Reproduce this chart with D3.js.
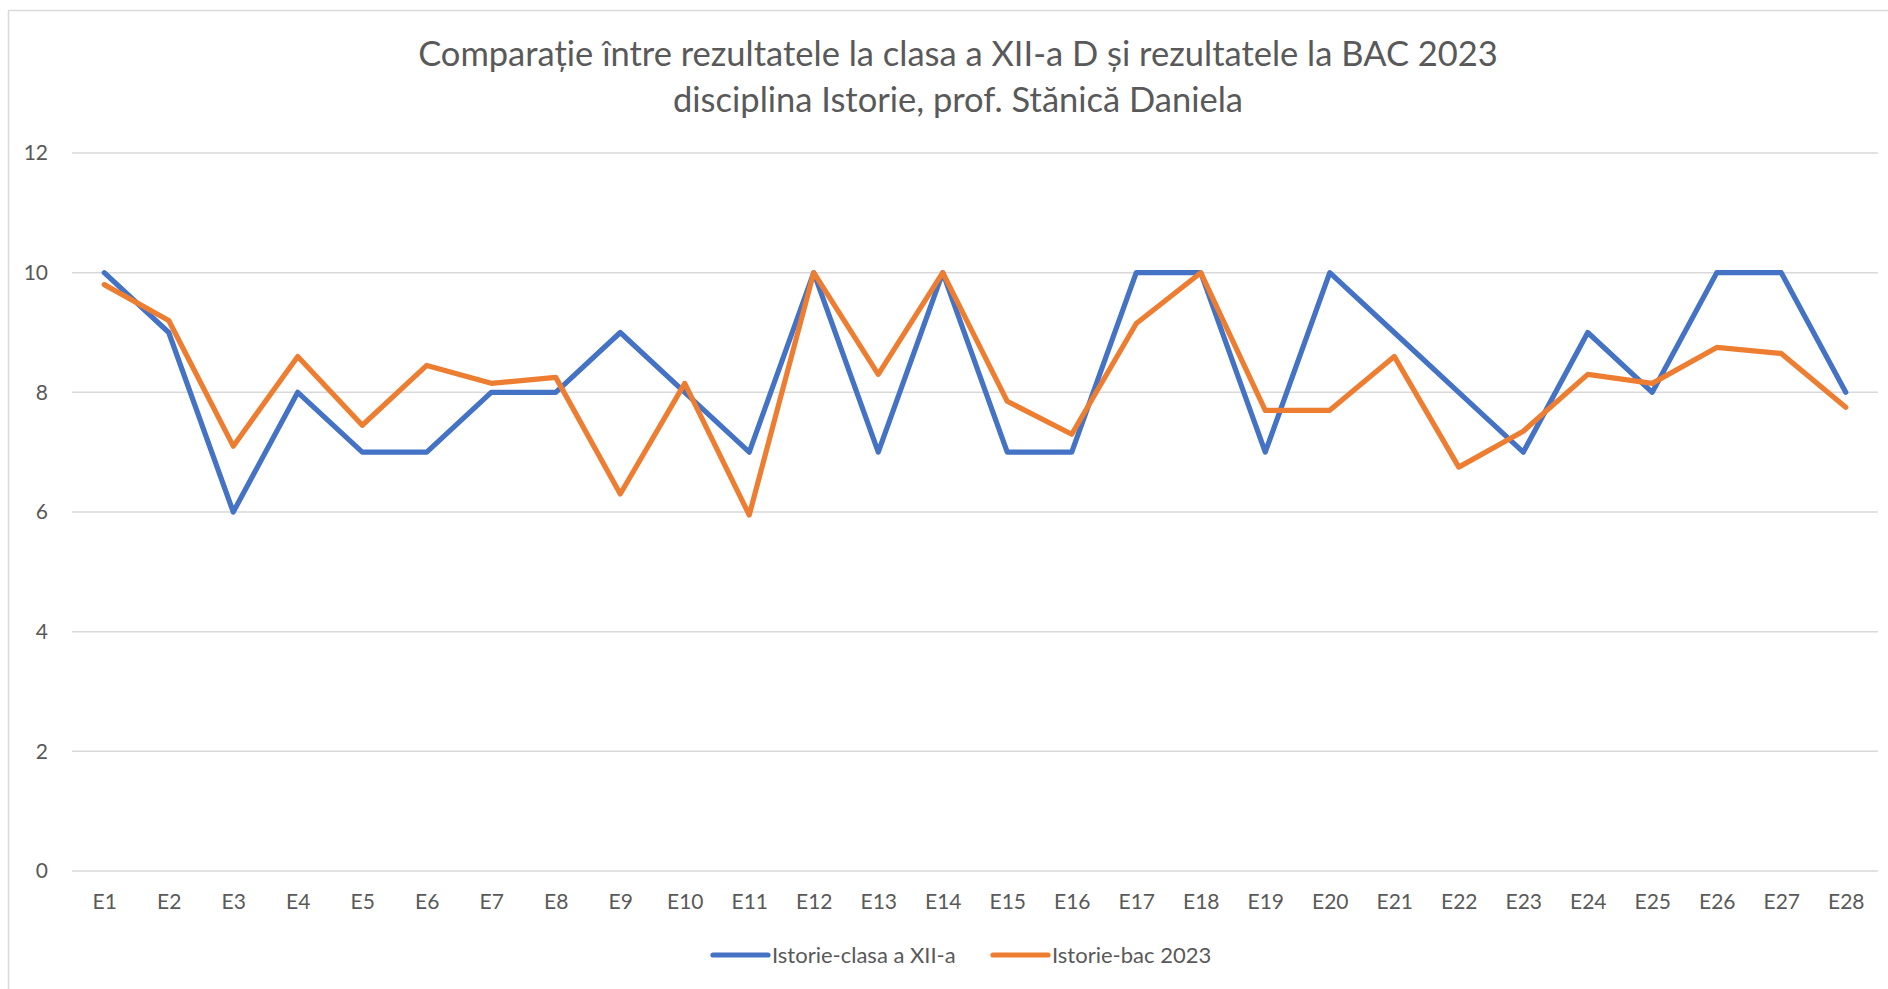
<!DOCTYPE html>
<html>
<head>
<meta charset="utf-8">
<script src="https://cdn.jsdelivr.net/npm/d3@7"></script>
<style>
  html, body { margin: 0; padding: 0; background: #ffffff; }
  svg { display: block; }
</style>
</head>
<body>
<svg id="chart" width="1888" height="989"></svg>
<script>
// Chart data: student scores per exam paper (E1..E28)
const categories = ["E1","E2","E3","E4","E5","E6","E7","E8","E9","E10","E11","E12","E13","E14",
                    "E15","E16","E17","E18","E19","E20","E21","E22","E23","E24","E25","E26","E27","E28"];
const clasaValues = [10, 9, 6, 8, 7, 7, 8, 8, 9, 8, 7, 10, 7, 10,
                     7, 7, 10, 10, 7, 10, 9, 8, 7, 9, 8, 10, 10, 8];
const bacValues = [9.8, 9.2, 7.1, 8.6, 7.45, 8.45, 8.15, 8.25, 6.3, 8.15, 5.95, 10, 8.3, 10,
                   7.85, 7.3, 9.15, 10, 7.7, 7.7, 8.6, 6.75, 7.35, 8.3, 8.15, 8.75, 8.65, 7.75];
const yTicks = [0, 2, 4, 6, 8, 10, 12];
const seriesNames = ["Istorie-clasa a XII-a", "Istorie-bac 2023"];
const titleLines = ["Comparație între rezultatele la clasa a XII-a D și rezultatele la BAC 2023",
                    "disciplina Istorie, prof. Stănică Daniela"];

const W = 1888, H = 989;
const colors = ["#4472C4", "#ED7D31"];
const textColor = "#595959";
const gridColor = "#D9D9D9";
const font = "Lato, 'Open Sans', sans-serif";

const svg = d3.select("#chart");

svg.append("rect").attr("width", W).attr("height", H).attr("fill", "#ffffff");
// chart area frame
svg.append("rect")
  .attr("x", 8.5).attr("y", 10.5)
  .attr("width", W).attr("height", H)
  .attr("fill", "none").attr("stroke", gridColor).attr("stroke-width", 1.5);

const plot = { left: 72, right: 1878, top: 153, bottom: 871 };

const x = d3.scalePoint().domain(categories).range([plot.left, plot.right]).padding(0.5);
const y = d3.scaleLinear().domain([0, 12]).range([plot.bottom, plot.top]);

// horizontal gridlines
svg.append("g").selectAll("line").data(yTicks).join("line")
  .attr("x1", plot.left).attr("x2", plot.right)
  .attr("y1", d => y(d)).attr("y2", d => y(d))
  .attr("stroke", gridColor).attr("stroke-width", 1.5);

// y axis labels
const yAxis = d3.axisLeft(y).tickValues(yTicks).tickSize(0).tickPadding(0);
const gy = svg.append("g").attr("transform", "translate(48,0)").call(yAxis);
gy.select(".domain").remove();
gy.selectAll("text")
  .attr("font-family", font).attr("font-size", 21).attr("fill", textColor);

// x axis labels
const xAxis = d3.axisBottom(x).tickSize(0).tickPadding(0);
const gx = svg.append("g").attr("transform", "translate(0,894)").call(xAxis);
gx.select(".domain").remove();
gx.selectAll("text")
  .attr("font-family", font).attr("font-size", 21).attr("fill", textColor);

// series lines
const line = d3.line().x((d, i) => x(categories[i])).y(d => y(d));
[clasaValues, bacValues].forEach((vals, k) => {
  svg.append("path")
    .datum(vals)
    .attr("d", line)
    .attr("fill", "none")
    .attr("stroke", colors[k])
    .attr("stroke-width", 5.2)
    .attr("stroke-linejoin", "round")
    .attr("stroke-linecap", "round");
});

// title
svg.append("g").selectAll("text").data(titleLines).join("text")
  .attr("x", 958)
  .attr("y", (d, i) => 66 + i * 46)
  .attr("text-anchor", "middle")
  .attr("font-family", font).attr("font-size", 34.5).attr("fill", textColor)
  .text(d => d);

// legend
const legendItems = [
  { name: seriesNames[0], color: colors[0], x0: 713 },
  { name: seriesNames[1], color: colors[1], x0: 993 }
];
const lg = svg.append("g");
legendItems.forEach(it => {
  lg.append("line")
    .attr("x1", it.x0).attr("x2", it.x0 + 55)
    .attr("y1", 955).attr("y2", 955)
    .attr("stroke", it.color).attr("stroke-width", 5.2).attr("stroke-linecap", "round");
  lg.append("text")
    .attr("x", it.x0 + 59).attr("y", 955)
    .attr("dy", "0.35em")
    .attr("font-family", font).attr("font-size", 22).attr("fill", textColor)
    .text(it.name);
});
</script>
</body>
</html>
